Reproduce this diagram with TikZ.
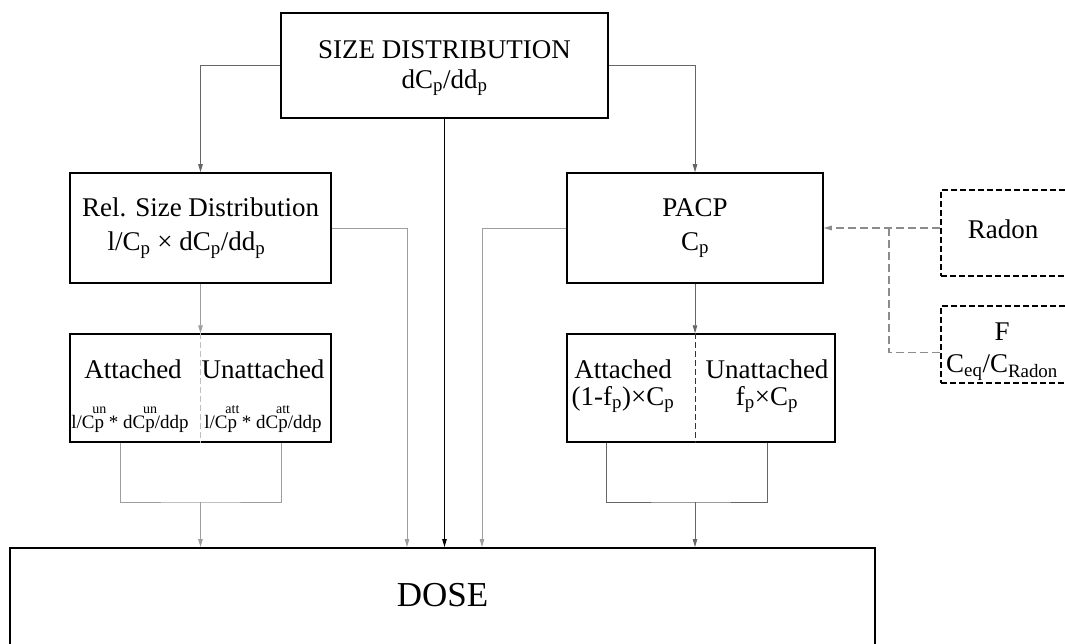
\documentclass[tikz,border=0pt]{standalone}
\usepackage{fontspec}
\setmainfont{Liberation Serif}
\usetikzlibrary{arrows.meta,calc}
\newcommand{\setfs}[2]{\fontsize{#1}{#2}\selectfont}
\newcommand{\lowr}[1]{\textsubscript{#1}}
\newcommand{\supover}[2]{\setbox0\hbox{#1}\rlap{\hbox to \wd0{\hss\raisebox{15pt}{\setfs{14}{14}#2}\hss}}\box0\relax}
\tikzset{
    box/.style={draw, line width=1.5pt, inner sep=0pt, align=center}, % solid box
    dbox/.style={draw, line width=1.4pt, dash pattern=on 6pt off 3pt, inner sep=0pt, align=center}, % dashed box
    conn/.style={draw=black!60, line width=0.9pt}, % dark connector
    connlt/.style={draw=black!38, line width=0.9pt}, % light connector
    tip/.style={-{Triangle[length=8pt,width=4.5pt]}},
    feed/.style={draw=black!45, line width=1.1pt, dash pattern=on 8pt off 4pt},
    split/.style={line width=0.9pt, dash pattern=on 6pt off 3pt}
}
\begin{document}
\begin{tikzpicture}[x=1pt, y=-1pt, font=\setfs{27}{34}]
    \path[use as bounding box, clip] (0,0) rectangle (1065,644);

    % boxes
    \node[box, minimum width=327, minimum height=105] (size) at (444.5,65.5) {};
    \node[align=center, font=\setfs{27}{30}] (sizetxt) at (444.5,68) {SIZE DISTRIBUTION\\dC\lowr{p}/dd\lowr{p}};
    \node[box, minimum width=261, minimum height=110] (rel) at (200.5,228) {Rel. Size Distribution\\l/C\lowr{p} × dC\lowr{p}/dd\lowr{p}\hspace*{28pt}};
    \node[box, minimum width=256, minimum height=110] (pacp) at (695,228) {PACP\\C\lowr{p}};
    \node[box, minimum width=261, minimum height=108] (attL) at (200.5,388) {};
    \node[box, minimum width=268, minimum height=108] (attR) at (701,388) {};
    \node[dbox, minimum width=127, minimum height=86] (radon) at (1004.5,233) {};
    \node (radontxt) at (1003,229) {Radon};
    \node[dbox, minimum width=127, minimum height=77] (fbox) at (1004.5,344.5) {};
    \node[align=center, font=\setfs{27}{32}] (ftxt) at (1002,352) {F\\C\lowr{eq}/C\lowr{Radon}};
    \node[box, anchor=north, minimum width=865, minimum height=100, font=\setfs{35}{35}] (dose) at (442.5,547) {\raisebox{5pt}{DOSE}};

    % texts in the split boxes
    \node[anchor=base] (tLa) at (133,378) {Attached};
    \node[anchor=base] (tLb) at (263,378) {Unattached};
    \node[anchor=base, font=\setfs{19}{19}] (tLc) at (130,428) {l/C\supover{p}{un} * dC\supover{p}{un}/ddp};
    \node[anchor=base, font=\setfs{19}{19}] (tLd) at (263,428) {l/C\supover{p}{att} * dC\supover{p}{att}/ddp};
    \node[anchor=base] (tRa) at (623,378) {Attached};
    \node[anchor=base] (tRb) at (767,378) {Unattached};
    \node[anchor=base] (tRc) at (623,405) {(1-f\lowr{p})×C\lowr{p}};
    \node[anchor=base] (tRd) at (767,405) {f\lowr{p}×C\lowr{p}};

    % connectors from the top
    \draw[conn, tip] (size.west) -| (rel.north);
    \draw[conn, tip] (size.east) -| (pacp.north);
    \draw[line width=0.9pt, tip] (size.south) -- (size.south |- dose.north);
    \coordinate (dropL) at (407,547);
    \coordinate (dropR) at (482,547);
    \draw[connlt, tip] (rel.east) -| (dropL);
    \draw[connlt, tip] (pacp.west) -| (dropR);

    % into the split boxes
    \draw[connlt, tip] (rel.south) -- (attL.north);
    \draw[split, black!25] (attL.north) -- (attL.south);
    \draw[conn, tip] (pacp.south) -- (pacp.south |- attR.north);
    \draw[split, black!80] (pacp.south |- attR.north) -- (pacp.south |- attR.south);

    % brackets down to the dose
    \coordinate (jL) at (200.5,502);
    \coordinate (jR) at (695,502);
    \draw[connlt] ($(attL.south west)+(51,0)$) |- (jL) -| ($(attL.south east)+(-50,0)$);
    \draw[connlt, tip] (jL) -- (jL |- dose.north);
    \draw[conn] ($(attR.south west)+(40,0)$) |- (jR) -| ($(attR.south east)+(-68,0)$);
    \draw[conn, tip] (jR) -- (jR |- dose.north);

    % radon and F feed the PACP
    \coordinate (fork) at (889,228);
    \draw[feed, tip] (pacp.east -| radon.west) -- (pacp.east);
    \draw[feed] ($(fbox.west)+(0,8)$) -| (fork);
\end{tikzpicture}
\end{document}
